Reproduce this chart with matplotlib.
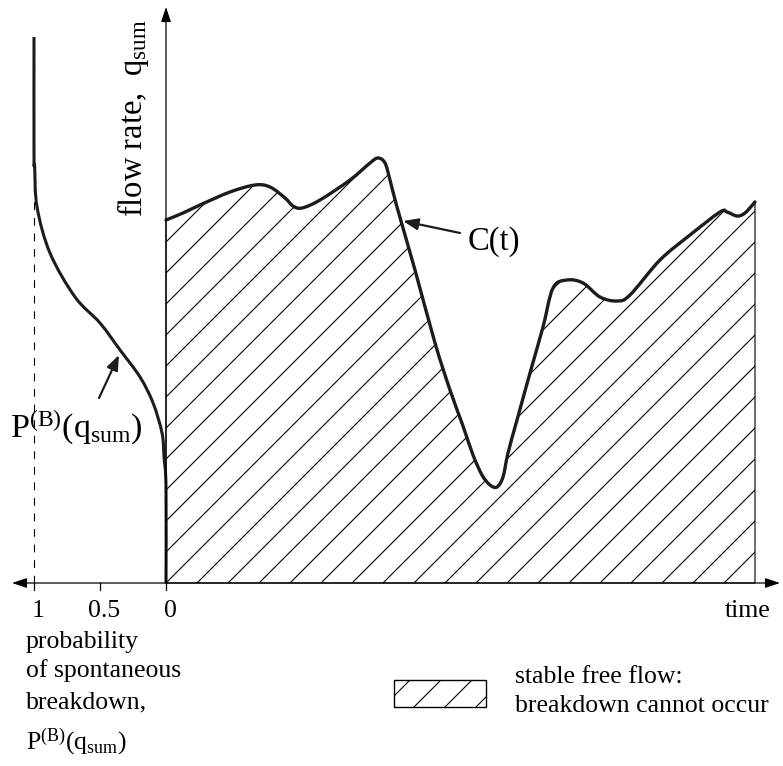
import numpy as np
import matplotlib.pyplot as plt
from matplotlib.patches import PathPatch, Rectangle
from matplotlib.path import Path

plt.rcParams["font.family"] = ["Liberation Serif", "DejaVu Serif"]
plt.rcParams["mathtext.fontset"] = "custom"
plt.rcParams["mathtext.rm"] = "Liberation Serif"
plt.rcParams["mathtext.it"] = "Liberation Serif:italic"

# capacity curve C(t): time vs flow rate (arbitrary units)
time = [0, 17, 34, 64, 89, 104, 119, 127, 136, 154, 184, 204, 212, 219, 224,
        231, 249, 269, 284, 297, 307, 316, 324, 331, 337, 342, 351, 364, 377,
        387, 401, 417, 434, 451, 464, 494, 524, 554, 561, 571, 579, 589]
flow = [363, 370, 378, 391, 398, 396, 385, 377, 375, 383, 403, 420, 425, 420,
        403, 376, 313, 240, 193, 157, 128, 108, 98, 96, 106, 130, 163, 210,
        256, 295, 303, 300, 286, 282, 288, 323, 348, 371, 371, 367, 370, 381]

# probability of spontaneous breakdown P(B) vs flow rate
q_sum = [546, 428, 416, 376, 330, 286, 260, 233, 206, 180, 150, 126, 96, 0]
p_breakdown = [1.0, 1.0, 0.995, 0.977, 0.879, 0.689, 0.5, 0.348, 0.197,
               0.098, 0.03, 0.015, 0.0, 0.0]

prob_ticks = [1, 0.5, 0]
prob_labels = ["1", "0.5", "0"]

P_SCALE = 132        # width of the probability scale, drawn to the left
HATCH_STEP = 31
INK = "#1c1c1c"

fig = plt.figure(figsize=(7.83, 7.66), dpi=100)
ax = fig.add_axes([0, 0, 1, 1])
ax.set_xlim(-166, 617)
ax.set_ylim(-183, 583)
ax.axis("off")


def smooth(x, y):
    """Bezier segments through the points (Catmull-Rom tangents)."""
    p = np.column_stack([x, y]).astype(float)
    ext = np.vstack([p[0], p, p[-1]])
    verts = [p[0]]
    codes = [Path.MOVETO]
    for i in range(len(p) - 1):
        a, b, c, d = ext[i], ext[i + 1], ext[i + 2], ext[i + 3]
        verts += [b + (c - a) / 6, c - (d - b) / 6, c]
        codes += [Path.CURVE4] * 3
    return verts, codes


def hatch(patch, x0, x1, y0, y1):
    for c in np.arange(np.floor((x0 - y1) / HATCH_STEP) * HATCH_STEP,
                       x1 - y0 + HATCH_STEP, HATCH_STEP):
        ln, = ax.plot([x0 - 50, x1 + 50], [x0 - 50 - c, x1 + 50 - c],
                      color="black", lw=0.8, zorder=2)
        ln.set_clip_path(patch)


# hatched region under C(t)
cv, cc = smooth(time, flow)
region_verts = [(0, 0), (0, flow[0])] + cv[1:] + [(time[-1], 0), (0, 0)]
region_codes = [Path.MOVETO, Path.LINETO] + cc[1:] + [Path.LINETO,
                                                      Path.CLOSEPOLY]
region = PathPatch(Path(region_verts, region_codes), facecolor="white",
                   edgecolor="black", lw=0.8, zorder=1)
ax.add_patch(region)
hatch(region, 0, time[-1], 0, max(flow))
ax.add_patch(PathPatch(Path(cv, cc), fill=False, edgecolor=INK, lw=2.4,
                       joinstyle="round", capstyle="round", zorder=4))

# P(B) curve on the left
pv, pc = smooth(-P_SCALE * np.array(p_breakdown), q_sum)
ax.add_patch(PathPatch(Path(pv, pc), fill=False, edgecolor=INK, lw=2.2,
                       joinstyle="round", zorder=4))
ax.plot([-P_SCALE, -P_SCALE], [0, 546], color="black", lw=0.8,
        linestyle=(0, (7, 7)), zorder=1)

# axes with arrows
arrow = dict(arrowstyle="-|>,head_length=0.9,head_width=0.3", color="black",
             lw=0.9, shrinkA=0, shrinkB=0)
ax.annotate("", xy=(614, 0), xytext=(0, 0), arrowprops=arrow, zorder=5)
ax.annotate("", xy=(-154, 0), xytext=(0, 0), arrowprops=arrow, zorder=5)
ax.annotate("", xy=(0, 576), xytext=(0, 0), arrowprops=arrow, zorder=5)

for v, lab in zip(prob_ticks, prob_labels):
    x = -P_SCALE * v
    ax.plot([x, x], [0, -7], color="black", lw=0.9)
    ax.text(x + 4, -34, lab, fontsize=18.5, ha="center", va="baseline")

ax.text(559, -34, "time", fontsize=18.5, ha="left", va="baseline")
ax.text(-33, 465, r"flow rate,  $\mathrm{q}_{\mathrm{sum}}$", fontsize=23.5,
        rotation=90, ha="center", va="center")

# labels with pointer arrows
pointer = dict(arrowstyle="-|>,head_length=0.9,head_width=0.35", color=INK,
               lw=1.6, shrinkA=0, shrinkB=0)
ax.text(-156, 145, r"$\mathrm{P}^{(\mathrm{B})}(\mathrm{q}_{\mathrm{sum}})$",
        fontsize=24.5, ha="left", va="baseline")
ax.annotate("", xy=(-47, 228), xytext=(-67, 185), arrowprops=pointer)
ax.annotate("", xy=(237, 362), xytext=(294, 350), arrowprops=pointer)
ax.text(302, 333, "C(t)", fontsize=23.5, ha="left", va="baseline")

# probability axis caption
caption = ["probability", "of spontaneous", "breakdown,",
           r"$\mathrm{P}^{(\mathrm{B})}(\mathrm{q}_{\mathrm{sum}})$"]
for line, y in zip(caption, [-65, -94, -125, -167]):
    ax.text(-140, y, line, fontsize=18.5, ha="left", va="baseline")

# key for the hatched area
key = Rectangle((228, -124), 92, 27, facecolor="white", edgecolor="black",
                lw=1.0, zorder=1)
ax.add_patch(key)
hatch(key, 228, 320, -124, -97)
ax.text(349, -100, "stable free flow:", fontsize=18.5, ha="left",
        va="baseline")
ax.text(349, -129, "breakdown cannot occur", fontsize=18.5, ha="left",
        va="baseline")

fig.savefig("out.png", dpi=100)
